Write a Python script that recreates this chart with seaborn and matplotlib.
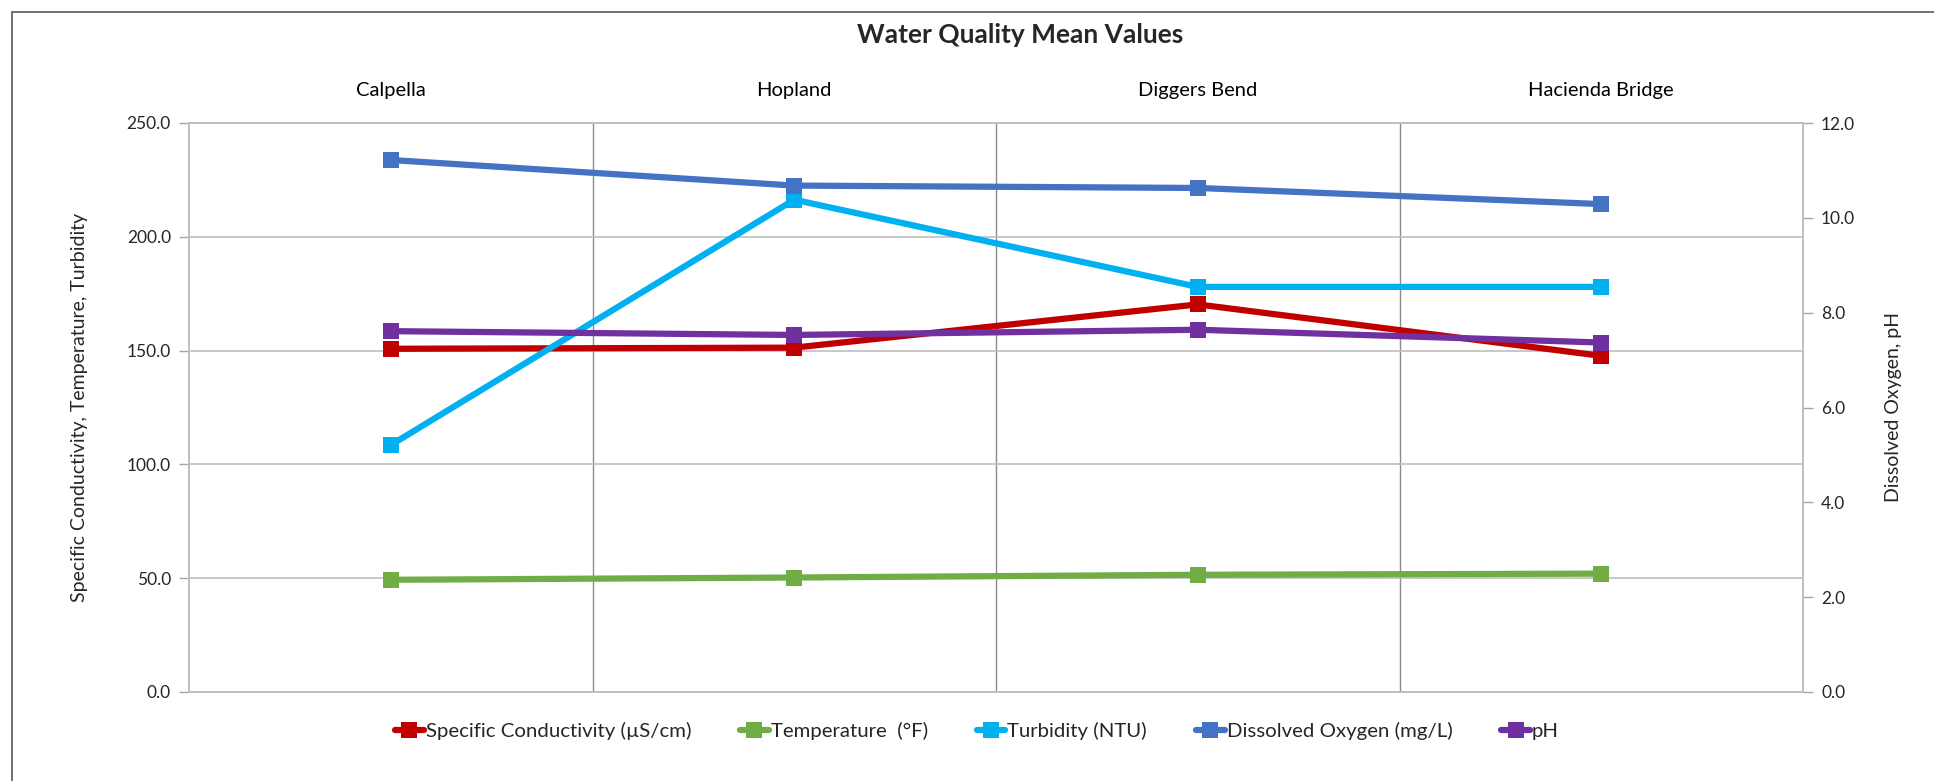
import pandas as pd
import matplotlib.pyplot as plt
import matplotlib.patches as mpatches
import seaborn as sns

sns.set_theme(style="white")
plt.rcParams['font.family'] = ['Lato', 'DejaVu Sans']

# Chart data
sites = ['Calpella', 'Hopland', 'Diggers Bend', 'Hacienda Bridge']
conductivity = [150.8, 151.3, 170.3, 147.7]
temperature = [49.3, 50.3, 51.5, 52.0]
turbidity = [108.5, 216.3, 178.0, 178.0]
dissolved_oxygen = [11.22, 10.68, 10.63, 10.29]
ph = [7.61, 7.53, 7.64, 7.37]

left_names = ['Specific Conductivity (µS/cm)', 'Temperature  (°F)', 'Turbidity (NTU)']
right_names = ['Dissolved Oxygen (mg/L)', 'pH']
colors = {
    'Specific Conductivity (µS/cm)': '#C00000',
    'Temperature  (°F)': '#70AD47',
    'Turbidity (NTU)': '#00B0F0',
    'Dissolved Oxygen (mg/L)': '#4472C4',
    'pH': '#7030A0',
}

pos = list(range(len(sites)))
left_df = pd.DataFrame({
    'pos': pos * 3,
    'value': conductivity + temperature + turbidity,
    'series': [n for n in left_names for _ in sites],
})
right_df = pd.DataFrame({
    'pos': pos * 2,
    'value': dissolved_oxygen + ph,
    'series': [n for n in right_names for _ in sites],
})

W, H = 1934, 781
fig = plt.figure(figsize=(W / 100, H / 100), dpi=100)
ax = fig.add_axes([189 / W, 1 - 692 / H, (1803 - 189) / W, (692 - 123) / H])
ax2 = ax.twinx()

line_kw = dict(linewidth=4.5, marker='s', markersize=11.5, markeredgewidth=0)
sns.lineplot(data=left_df, x='pos', y='value', hue='series', palette=colors,
             hue_order=left_names, ax=ax, legend=False, **line_kw)
sns.lineplot(data=right_df, x='pos', y='value', hue='series', palette=colors,
             hue_order=right_names, ax=ax2, legend=False, **line_kw)

# axes ranges and ticks
ax.set_xlim(-0.5, len(sites) - 0.5)
ax.set_ylim(0, 250)
ax2.set_ylim(0, 12)
ax.set_yticks(range(0, 251, 50))
ax.set_yticklabels([f'{v:.1f}' for v in range(0, 251, 50)], fontsize=12.5)
ax2.set_yticks(range(0, 13, 2))
ax2.set_yticklabels([f'{v:.1f}' for v in range(0, 13, 2)], fontsize=12.5)
ax.set_xticks(pos)
ax.set_xticklabels(sites, fontsize=14.5)
ax.set_xticks([0.5, 1.5, 2.5], minor=True)
ax.xaxis.tick_top()
ax.tick_params(axis='x', which='both', length=0, pad=17, labelcolor='#000000')
ax.tick_params(axis='y', length=7, width=1, color='#A6A6A6', pad=6, left=True)
ax2.tick_params(axis='y', length=7, width=1, color='#A6A6A6', pad=6, right=True)
ax.set_xlabel('')
ax.set_ylabel('')
ax2.set_xlabel('')
ax2.set_ylabel('')

# gridlines
ax.grid(axis='y', which='major', color='#BFBFBF', linewidth=1.2)
ax.grid(axis='x', which='minor', color='#8C8C8C', linewidth=1.0)
ax.grid(axis='x', which='major', visible=False)
ax2.grid(False)
for a in (ax, ax2):
    for side in a.spines.values():
        side.set_color('#BFBFBF')
        side.set_linewidth(1.2)

# titles and axis labels
fig.text(1020 / W, 1 - 35 / H, 'Water Quality Mean Values', ha='center', va='center',
         fontsize=19, fontweight='bold')
fig.text(80 / W, 1 - 407 / H, 'Specific Conductivity, Temperature, Turbidity',
         rotation=90, ha='center', va='center', fontsize=14)
fig.text(1893 / W, 1 - 407 / H, 'Dissolved Oxygen, pH',
         rotation=90, ha='center', va='center', fontsize=14)

# legend
handles = [h for h in ax.get_lines() if h.get_marker() == 's'] + \
          [h for h in ax2.get_lines() if h.get_marker() == 's']
fig.legend(handles, left_names + right_names, loc='center', ncol=5,
           bbox_to_anchor=(977 / W, 1 - 731 / H), frameon=False, fontsize=14.7,
           handlelength=1.4, handletextpad=0.1, columnspacing=2.4)

# chart border (top and left edges visible)
fig.patches.append(mpatches.Rectangle((12 / W, -0.1), 2, 1 - 12 / H + 0.1,
                                      transform=fig.transFigure, fill=False,
                                      edgecolor='#595959', linewidth=1.2))

fig.savefig('out.png', dpi=100)
